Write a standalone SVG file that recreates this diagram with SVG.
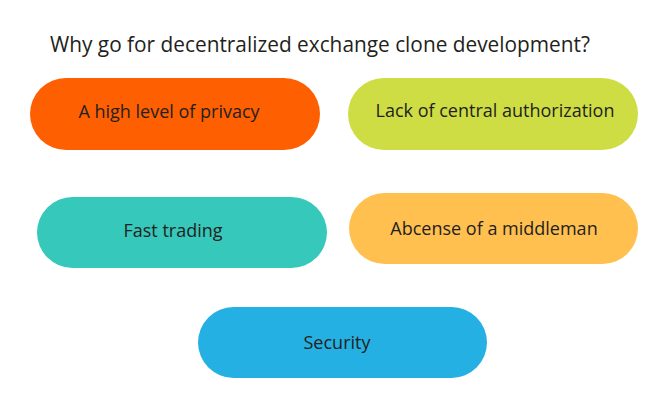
<svg xmlns="http://www.w3.org/2000/svg" width="650" height="400" viewBox="0 0 650 400">
<style>
text{font-family:"Open Sans","Liberation Sans",sans-serif;fill:#231f20;text-anchor:middle;dominant-baseline:central}
.t{font-size:21px;text-anchor:start;dominant-baseline:auto}
.l{font-size:18px}
</style>
<rect width="650" height="400" fill="#fff"/>
<text class="t" x="50" y="52" textLength="540" lengthAdjust="spacingAndGlyphs">Why go for decentralized exchange clone development?</text>
<g id="privacy"><rect x="30" y="78" width="290" height="72" rx="36" fill="#fe5f00"/><text class="l" x="169" y="111">A high level of privacy</text></g>
<g id="authorization"><rect x="348" y="78" width="290" height="72" rx="36" fill="#cfdd45"/><text class="l" x="495" y="110">Lack of central authorization</text></g>
<g id="fast"><rect x="37" y="197" width="290" height="71" rx="35.5" fill="#36c8bb"/><text class="l" x="173" y="230">Fast trading</text></g>
<g id="middleman"><rect x="349" y="193" width="289" height="71" rx="35.5" fill="#ffc04f"/><text class="l" x="494" y="228">Abcense of a middleman</text></g>
<g id="security"><rect x="198" y="307" width="289" height="71" rx="35.5" fill="#24b0e2"/><text class="l" x="337" y="342">Security</text></g>
<g id="connectors"/>
</svg>
